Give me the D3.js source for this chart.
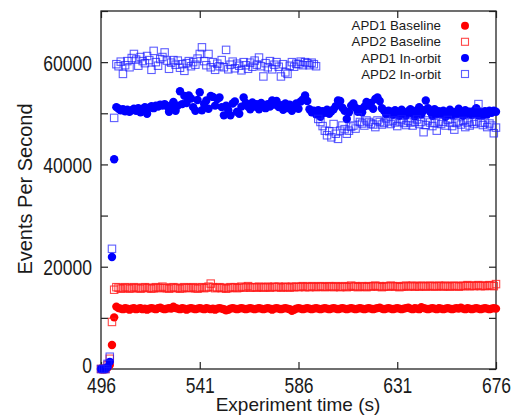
<!DOCTYPE html>
<html>
<head>
    <script src="https://d3js.org/d3.v7.min.js"></script>
    <style>
        body { margin: 0; background: #fff; }
        text { font-family: "Liberation Sans", Arial, sans-serif; fill: #1a1a1a; }
    </style>
</head>
<body>
    <svg width="515" height="417"></svg>

    <script>
        // sample times (one reading per second)
        const time = d3.range(496, 677);

        // APD1 Baseline (red dots)
        const apd1Baseline = [
            0, 0, 0, 300, 800, 4700, 10100, 12200, 11900, 11800,
            11700, 11900, 11800, 11600, 11800, 11900, 11700, 11800, 11900, 11700,
            11800, 11600, 11800, 11900, 11800, 11700, 11900, 12000, 11800, 11700,
            11800, 11900, 11800, 12200, 11900, 11800, 11700, 11900, 11800, 11600,
            11800, 11900, 11800, 11700, 11800, 11900, 11800, 11700, 11900, 11800,
            11700, 11800, 11600, 11800, 11900, 11800, 11700, 11500, 11600, 11800,
            11900, 11800, 11700, 11800, 11900, 11800, 11700, 11800, 11900, 11800,
            11700, 11800, 11900, 11800, 11700, 11800, 11900, 11800, 11600, 11800,
            11900, 11800, 11700, 11800, 11900, 11800, 11700, 11400, 11600, 11800,
            11900, 11800, 11700, 11800, 11900, 11800, 11700, 11800, 11900, 11800,
            11700, 11800, 11900, 11800, 11700, 11800, 11900, 11800, 11700, 11800,
            11900, 11800, 11700, 11800, 11900, 11800, 11700, 11800, 11900, 11800,
            11700, 11800, 11900, 11800, 11700, 11800, 11900, 12000, 11800, 11700,
            11800, 11900, 11800, 11700, 11800, 11900, 11800, 11700, 11800, 11900,
            12000, 11800, 11700, 11900, 11800, 11700, 12100, 11900, 11800, 11700,
            11800, 11900, 11800, 11700, 11900, 11800, 11700, 11800, 11900, 11800,
            11700, 11800, 11900, 11800, 12000, 11800, 11700, 11900, 11800, 11700,
            11800, 11900, 11800, 11700, 11800, 11900, 11800, 11700, 11800, 11900,
            11800
        ];

        // APD2 Baseline (red open squares)
        const apd2Baseline = [
            0, 0, 0, 800, 2000, 9200, 15500, 16000, 15900, 15700,
            15800, 16000, 15900, 15700, 15800, 16000, 15900, 15800, 15700, 15900,
            16000, 15800, 15900, 15700, 15800, 16000, 15900, 15800, 16100, 15900,
            15800, 15700, 15900, 16000, 15800, 15900, 15700, 15800, 16000, 15900,
            15800, 15900, 16000, 15800, 15700, 15900, 16000, 15800, 15900, 16100,
            16700, 16000, 15800, 15900, 16000, 15800, 15900, 15700, 15800, 16000,
            15900, 16000, 15800, 15900, 16100, 15900, 16000, 16200, 15900, 16000,
            16000, 15900, 16100, 16000, 15900, 16000, 16100, 15900, 16000, 16100,
            16000, 16100, 15900, 16000, 16100, 16000, 15900, 16100, 16000, 16100,
            16000, 16100, 16200, 16000, 16100, 16000, 16200, 16100, 16000, 16100,
            16200, 16100, 16000, 16100, 16200, 16100, 16000, 16200, 16100, 16000,
            16100, 16200, 16000, 16100, 16300, 16100, 16200, 16000, 16100, 16200,
            16100, 16000, 16200, 16100, 16200, 16300, 16100, 16200, 16000, 16100,
            16200, 16100, 16300, 16200, 16100, 16200, 16000, 16100, 16200, 16300,
            16100, 16200, 16300, 16100, 16200, 16100, 16300, 16200, 16100, 16200,
            16300, 16200, 16100, 16200, 16300, 16200, 16100, 16300, 16200, 16100,
            16200, 16300, 16200, 16100, 16200, 16300, 16200, 16400, 16200, 16300,
            16200, 16300, 16400, 16200, 16300, 16200, 16300, 16400, 16300, 16200,
            16600
        ];

        // APD1 In-orbit (blue dots)
        const apd1InOrbit = [
            0, 0, 0, 400, 1400, 21900, 41000, 51200, 50900, 50600,
            50800, 50400, 50700, 50300, 50600, 50900, 50500, 51000, 50200, 50800,
            51200, 49900, 51100, 51400, 51000, 51500, 51300, 51700, 51500, 51800,
            51400, 50300, 51600, 52200, 50500, 51500, 54300, 51800, 53400, 52000,
            53500, 52900, 51200, 50500, 52600, 54100, 50600, 51800, 52500, 50900,
            53400, 53200, 51500, 52800, 53100, 51200, 49600, 51500, 50600, 49600,
            51900, 52300, 50300, 49900, 51300, 53100, 52000, 51300, 50800, 52100,
            51300, 51800, 50800, 52000, 51500, 51000, 51800, 51300, 52500, 51700,
            52400, 51200, 51600, 50700, 51900, 51000, 51700, 50500, 51400, 51900,
            50900, 52300, 52700, 53500, 52400, 50800, 50200, 50500, 49800, 50600,
            49300, 50400, 50100, 50700, 49900, 50400, 50800, 51400, 52500, 52400,
            51100, 50500, 48900, 50200, 51500, 51900, 51100, 50300, 50800, 50200,
            51300, 52200, 51500, 52000, 50900, 52800, 53100, 52400, 51000, 50500,
            49800, 50500, 50300, 49700, 50600, 50200, 49500, 50700, 50100, 49600,
            50400, 50800, 50000, 49400, 50600, 51200, 49800, 50600, 52500, 51000,
            50300, 49500, 50800, 49800, 50400, 49900, 50500, 49300, 50100, 50700,
            49600, 50200, 49800, 50900, 50300, 49500, 50600, 49900, 50300, 49700,
            50500, 51000, 49600, 50200, 49600, 50400, 49800, 50500, 50100, 50500,
            50300
        ];

        // APD2 In-orbit (blue open squares)
        const apd2InOrbit = [
            0, 0, 0, 1000, 2400, 23500, 49100, 59600, 59200, 60100,
            57700, 59400, 60200, 59000, 60800, 61600, 60500, 59300, 61000, 60200,
            59800, 61200, 60400, 58500, 62200, 60000, 59300, 60600, 61000, 61900,
            60300, 58700, 59900, 60400, 59500, 60300, 58900, 59600, 58300, 59800,
            60200, 59200, 60000, 59500, 60700, 61600, 62900, 60200, 59400, 61600,
            59000, 60000, 58500, 59700, 59200, 60400, 59000, 62400, 58600, 59500,
            60100, 58800, 59700, 59300, 58400, 60000, 59400, 58700, 59900, 59100,
            60300, 59500, 60900, 59200, 57200, 59800, 59000, 60200, 58600, 59500,
            60000, 59100, 57200, 59600, 58000, 57700, 59300, 60000, 59100, 59700,
            59600, 60100, 59400, 60000, 59800, 59400, 59900, 59600, 59200, 48900,
            48300, 47500, 46600, 45700, 46500, 45300, 47900, 46000, 45000, 46600,
            47600, 46900, 46000, 46600, 47400, 47600, 47000, 49200, 48300, 48000,
            47600, 48600, 48300, 48000, 47800, 47300, 48600, 48300, 47800, 48100,
            49000, 48400, 47900, 48600, 48200, 47500, 48400, 48800, 48100, 47700,
            48500, 48200, 47600, 48300, 48800, 47900, 48300, 46300, 47700, 48600,
            48200, 47500, 48100, 46600, 48400, 47900, 48300, 47600, 48700, 48200,
            47500, 46800, 48100, 48400, 47800, 48500, 47300, 48200, 47600, 48300,
            47900, 48400, 51800, 48100, 47700, 48200, 47300, 48000, 47600, 46100,
            47200
        ];

        const seriesNames = ["APD1 Baseline", "APD2 Baseline", "APD1 In-orbit", "APD2 In-orbit"];
        const xTicks = [496, 541, 586, 631, 676];
        const yTicks = [0, 10000, 20000, 30000, 40000, 50000, 60000, 70000];
        const yLabelled = [0, 20000, 40000, 60000];

        const series = [
            { name: seriesNames[0], values: apd1Baseline, color: "#ff0000", shape: "circle", op: 1 },
            { name: seriesNames[1], values: apd2Baseline, color: "#ff1a1a", shape: "square", op: 0.8 },
            { name: seriesNames[2], values: apd1InOrbit, color: "#0000ff", shape: "circle", op: 1 },
            { name: seriesNames[3], values: apd2InOrbit, color: "#1a1aff", shape: "square", op: 0.7 }
        ];

        const svg = d3.select("svg");
        const margin = { top: 11, right: 19, bottom: 48, left: 101 };
        const W = 515, H = 417;
        const x0 = margin.left, x1 = W - margin.right;
        const y0 = H - margin.bottom, y1 = margin.top;

        const x = d3.scaleLinear().domain([496, 676]).range([x0, x1]);
        const y = d3.scaleLinear().domain([0, 70000]).range([y0, y1]);

        const tickLen = 7;
        const labelStretch = 1.3; // tick labels are taller than they are wide

        // mirrored ticks on all four sides
        const axisB = svg.append("g").attr("transform", `translate(0,${y0})`)
            .call(d3.axisBottom(x).tickValues(xTicks).tickSizeInner(-tickLen).tickSizeOuter(0).tickFormat(d3.format("d")));
        svg.append("g").attr("transform", `translate(0,${y1})`)
            .call(d3.axisTop(x).tickValues(xTicks).tickSizeInner(-tickLen).tickSizeOuter(0).tickFormat(""));
        const axisL = svg.append("g").attr("transform", `translate(${x0},0)`)
            .call(d3.axisLeft(y).tickValues(yTicks).tickSizeInner(-tickLen).tickSizeOuter(0)
                .tickPadding(9).tickFormat(d => yLabelled.includes(d) ? d : ""));
        svg.append("g").attr("transform", `translate(${x1},0)`)
            .call(d3.axisRight(y).tickValues(yTicks).tickSizeInner(-tickLen).tickSizeOuter(0).tickFormat(""));

        svg.selectAll(".domain").remove();
        svg.selectAll(".tick line").attr("stroke", "#222").attr("stroke-width", 1.2);

        axisB.selectAll("text")
            .attr("font-size", 17.5)
            .attr("font-family", "Liberation Sans, Arial, sans-serif")
            .attr("fill", "#1a1a1a")
            .attr("transform", `scale(1,${labelStretch})`)
            .attr("y", 11.8)
            .attr("dy", "0.36em");

        axisL.selectAll("text")
            .attr("font-size", 17.5)
            .attr("font-family", "Liberation Sans, Arial, sans-serif")
            .attr("fill", "#1a1a1a")
            .attr("transform", `scale(1,${labelStretch})`)
            .attr("y", d => d === 0 ? -5 / labelStretch : 0)
            .attr("dy", "0.36em");

        // plot frame
        svg.append("rect")
            .attr("x", x0).attr("y", y1)
            .attr("width", x1 - x0).attr("height", y0 - y1)
            .attr("fill", "none").attr("stroke", "#222").attr("stroke-width", 1.3);

        // data points
        series.forEach(s => {
            const pts = time.map((t, i) => ({ t: t, v: s.values[i] }));
            const g = svg.append("g");
            if (s.shape === "circle") {
                g.selectAll("circle").data(pts).enter().append("circle")
                    .attr("cx", d => x(d.t))
                    .attr("cy", d => y(d.v))
                    .attr("r", 4.2)
                    .attr("fill", s.color);
            } else {
                g.selectAll("rect").data(pts).enter().append("rect")
                    .attr("x", d => x(d.t) - 3.7)
                    .attr("y", d => y(d.v) - 3.7)
                    .attr("width", 7.4)
                    .attr("height", 7.4)
                    .attr("fill", "none")
                    .attr("stroke", s.color)
                    .attr("stroke-opacity", s.op)
                    .attr("stroke-width", 1.1);
            }
        });

        // legend
        const legend = svg.append("g");
        series.forEach((s, i) => {
            const by = 30.3 + i * 16.1;
            legend.append("text")
                .attr("x", 441).attr("y", by)
                .attr("text-anchor", "end")
                .attr("font-size", 13.3)
                .text(s.name);
            if (s.shape === "circle") {
                legend.append("circle").attr("cx", 465).attr("cy", by - 4.6).attr("r", 4)
                    .attr("fill", s.color);
            } else {
                legend.append("rect").attr("x", 461.5).attr("y", by - 8.1).attr("width", 7).attr("height", 7)
                    .attr("fill", "none").attr("stroke", s.color).attr("stroke-opacity", s.op).attr("stroke-width", 1.1);
            }
        });

        // axis titles
        svg.append("text")
            .attr("x", (x0 + x1) / 2 - 0.5).attr("y", 411)
            .attr("text-anchor", "middle")
            .attr("font-size", 19)
            .text("Experiment time (s)");

        svg.append("text")
            .attr("transform", "translate(32,189) rotate(-90)")
            .attr("text-anchor", "middle")
            .attr("font-size", 20)
            .text("Events Per Second");
    </script>
</body>
</html>
